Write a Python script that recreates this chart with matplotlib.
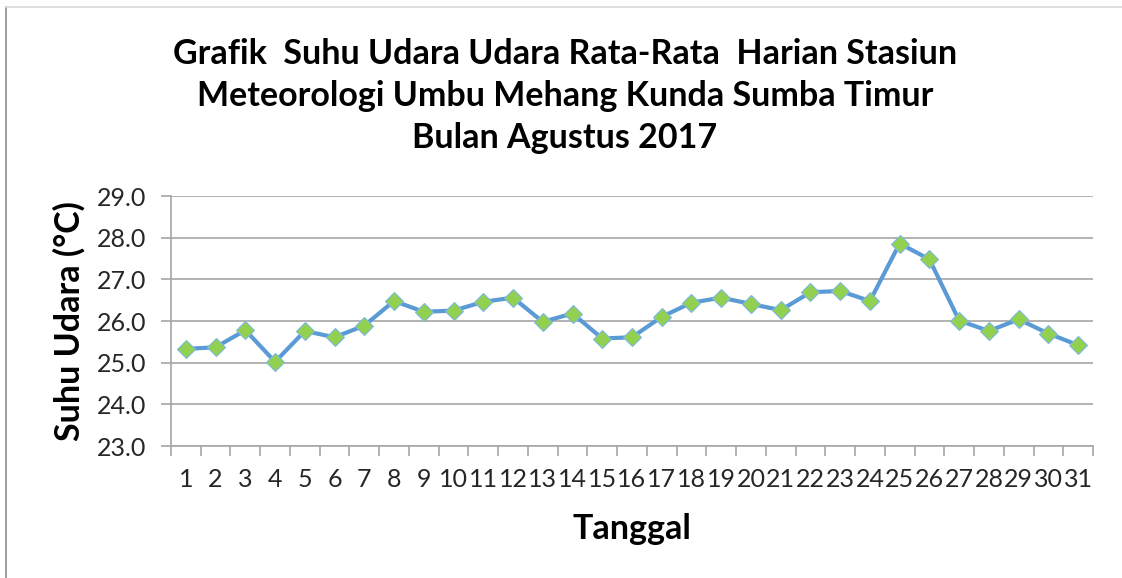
import matplotlib
matplotlib.use("Agg")
import matplotlib.pyplot as plt
from matplotlib.lines import Line2D
from matplotlib.ticker import FixedLocator, FormatStrFormatter

days = list(range(1, 32))
day_labels = [str(d) for d in days]
temps = [25.33, 25.37, 25.78, 25.02, 25.76, 25.61, 25.89, 26.48, 26.22, 26.25,
         26.46, 26.56, 25.98, 26.18, 25.58, 25.61, 26.10, 26.44, 26.56, 26.41,
         26.26, 26.69, 26.72, 26.48, 27.86, 27.48, 26.01, 25.76, 26.04, 25.70,
         25.42]
y_ticks = [23.0, 24.0, 25.0, 26.0, 27.0, 28.0, 29.0]

title = ("Grafik  Suhu Udara Udara Rata-Rata  Harian Stasiun\n"
         "Meteorologi Umbu Mehang Kunda Sumba Timur\n"
         "Bulan Agustus 2017")

plt.rcParams['font.family'] = ['Lato', 'DejaVu Sans']

W, H = 1122, 578
fig = plt.figure(figsize=(W / 100, H / 100), dpi=100)
ax = fig.add_axes([171 / W, 1 - 446 / H, (1093 - 171) / W, (446 - 196) / H])

ax.plot(days, temps, color='#5B9BD5', linewidth=3, marker='D', markersize=9,
        markerfacecolor='#92D050', markeredgecolor='#7FB8E0', markeredgewidth=0.8,
        zorder=3)

ax.set_xlim(0.5, 31.5)
ax.set_ylim(23, 29)
ax.set_yticks(y_ticks)
ax.yaxis.set_major_formatter(FormatStrFormatter('%.1f'))
ax.set_xticks(days)
ax.set_xticklabels(day_labels)
ax.xaxis.set_minor_locator(FixedLocator([d + 0.5 for d in range(0, 32)]))

grid_c = '#A6A6A6'
ax.grid(axis='y', color=grid_c, linewidth=1.2, zorder=0)
for s in ['top', 'right']:
    ax.spines[s].set_visible(False)
for s in ['left', 'bottom']:
    ax.spines[s].set_color(grid_c)
    ax.spines[s].set_linewidth(1.2)

ax.tick_params(axis='y', which='major', length=7, width=1.2, color=grid_c,
               pad=11, labelsize=18, labelcolor='#262626')
ax.tick_params(axis='x', which='major', length=0, pad=16, labelsize=18,
               labelcolor='#262626')
ax.tick_params(axis='x', which='minor', length=7, width=1.2, color=grid_c)

ax.set_xlabel('Tanggal', fontsize=24.5, fontweight='bold', labelpad=16)
ax.set_ylabel('Suhu Udara (°C)', fontsize=24.5, fontweight='bold', labelpad=8)

fig.text(565 / W, 1 - 96 / H, title, ha='center', va='center', fontsize=24.5,
         fontweight='bold', linespacing=1.4)

fig.add_artist(Line2D([6 / W, 6 / W], [0, 1 - 7 / H], transform=fig.transFigure,
                      color='#8C8C8C', linewidth=1.2))
fig.add_artist(Line2D([6 / W, 1], [1 - 7 / H, 1 - 7 / H], transform=fig.transFigure,
                      color='#D9D9D9', linewidth=1.2))

fig.savefig('out.png', dpi=100)
